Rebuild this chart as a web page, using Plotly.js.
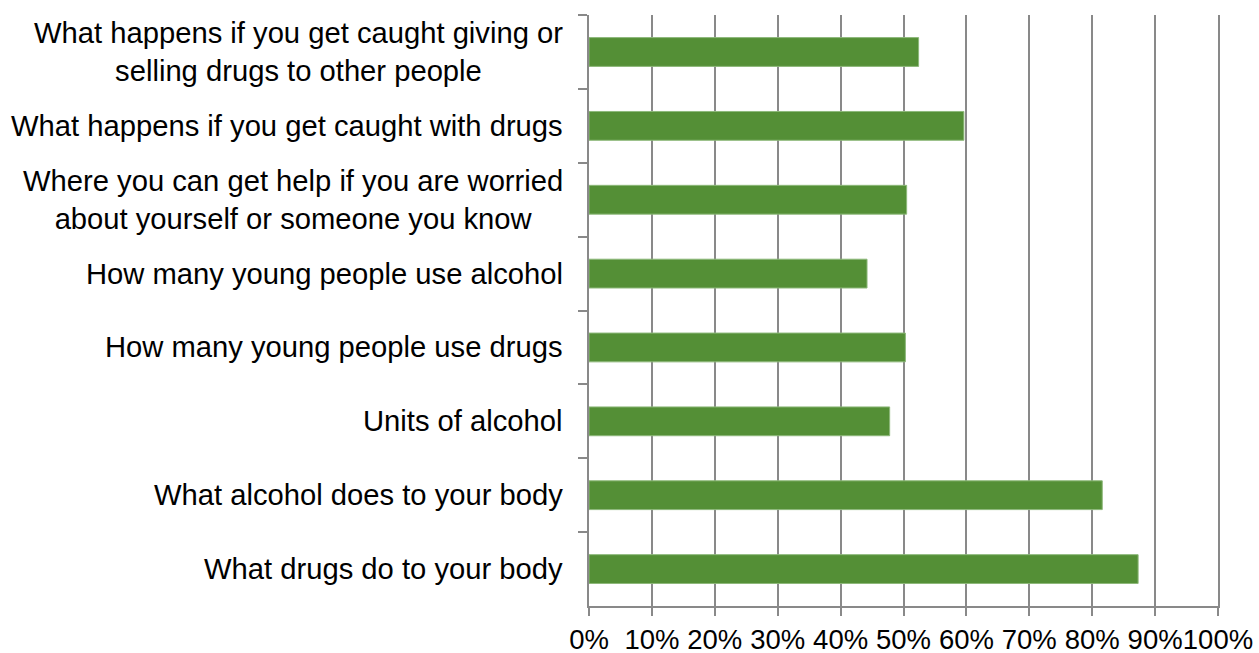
<!DOCTYPE html>
<html>
<head>
<meta charset="utf-8">
<script src="https://cdn.plot.ly/plotly-3.0.1.min.js"></script>
<style>html,body{margin:0;padding:0;background:#fff;}#chart{width:1259px;height:653px;}</style>
</head>
<body>
<div id="chart"></div>
<script>
// Categories, top to bottom as drawn
const categories = [
  "What happens if you get caught giving or<br>selling drugs to other people",
  "What happens if you get caught with drugs",
  "Where you can get help if you are worried<br>about yourself or someone you know",
  "How many young people use alcohol",
  "How many young people use drugs",
  "Units of alcohol",
  "What alcohol does to your body",
  "What drugs do to your body"
];
// Percent of respondents
const values = [52.4, 59.6, 50.5, 44.2, 50.3, 47.8, 81.6, 87.3];
const tickValues = [0, 10, 20, 30, 40, 50, 60, 70, 80, 90, 100];
const tickLabels = ["0%", "10%", "20%", "30%", "40%", "50%", "60%", "70%", "80%", "90%", "100%"];

const FONT = '"Liberation Sans", Arial, sans-serif';
const axisGray = '#898989';

const trace = {
  type: 'bar',
  orientation: 'h',
  y: categories,
  x: values,
  marker: {color: '#548F36', line: {color: '#8DB87A', width: 1}},
  hoverinfo: 'x+y'
};

const annotations = categories.map(c => ({
  xref: 'paper', yref: 'y', x: -24/629, y: c,
  xanchor: 'right', yanchor: 'middle', align: 'center',
  text: c, showarrow: false,
  font: {family: FONT, size: 29.2, color: '#000'}
}));

const layout = {
  width: 1259, height: 653,
  margin: {l: 589, r: 41, t: 15, b: 47, pad: 0},
  paper_bgcolor: '#fff', plot_bgcolor: '#fff',
  showlegend: false,
  bargap: 0.61,
  font: {family: FONT, size: 28, color: '#000'},
  xaxis: {
    range: [0, 100], tickvals: tickValues, ticktext: tickLabels,
    tickangle: 0,
    showgrid: true, gridcolor: axisGray, gridwidth: 2,
    zeroline: false, showline: true, linecolor: axisGray, linewidth: 2,
    ticks: 'outside', ticklen: 8, tickwidth: 2, tickcolor: axisGray,
    tickfont: {family: FONT, size: 27.5, color: '#000'},
    fixedrange: true
  },
  yaxis: {
    type: 'category', autorange: 'reversed',
    showgrid: false, zeroline: false,
    showline: true, mirror: true, linecolor: axisGray, linewidth: 2,
    ticks: 'outside', tickson: 'boundaries', ticklen: 9, tickwidth: 2, tickcolor: axisGray,
    showticklabels: false, fixedrange: true
  },
  annotations: annotations
};

Plotly.newPlot('chart', [trace], layout, {displayModeBar: false, staticPlot: true});
</script>
</body>
</html>
